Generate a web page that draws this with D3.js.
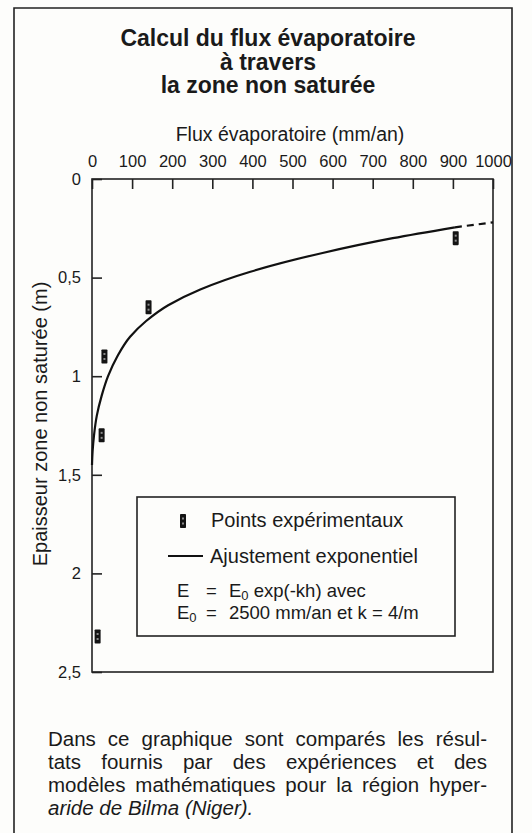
<!DOCTYPE html>
<html>
<head>
<meta charset="utf-8">
<script src="https://cdn.jsdelivr.net/npm/d3@7"></script>
<style>
  body { margin: 0; background: #fdfdfb; }
  svg text { font-family: "Liberation Sans", Arial, Helvetica, sans-serif; fill: #1a1a1a; }
</style>
</head>
<body>
<svg id="chart" width="532" height="833"></svg>
<script>
// title and labels
var titleLines = ["Calcul du flux évaporatoire", "à travers", "la zone non saturée"];
var xTitle = "Flux évaporatoire (mm/an)";
var yTitle = "Epaisseur zone non saturée (m)";
var xTicks = [0, 100, 200, 300, 400, 500, 600, 700, 800, 900, 1000];
var yTicks = [0, 0.5, 1, 1.5, 2, 2.5];

// experimental points (flux mm/an, depth m)
var pointFlux = [907, 141, 31, 24, 14];
var pointDepth = [0.30, 0.65, 0.90, 1.30, 2.32];

// fitted curve (solid part)
var curveFlux = [905, 750, 575, 395, 270, 190, 135, 95, 63, 40, 24, 12, 5, 1.5, 0];
var curveDepth = [0.245, 0.30, 0.375, 0.47, 0.56, 0.64, 0.72, 0.80, 0.90, 1.0, 1.10, 1.20, 1.30, 1.38, 1.45];
// dashed extension
var dashFlux = [905, 1000];
var dashDepth = [0.245, 0.22];

var caption = [
  "Dans ce graphique sont comparés les résul-",
  "tats fournis par des expériences et des",
  "modèles mathématiques pour la région hyper-",
  "aride de Bilma (Niger)."
];

var svg = d3.select("#chart");

// outer frame (bottom runs off the page)
svg.append("path")
  .attr("d", "M14,840 L14,8 L512,8 L512,840")
  .attr("fill", "none")
  .attr("stroke", "#222")
  .attr("stroke-width", 1.6);

// title
svg.append("g").selectAll("text")
  .data(titleLines)
  .enter().append("text")
  .attr("x", 268)
  .attr("y", function(d, i) { return 46 + i * 23.5; })
  .attr("text-anchor", "middle")
  .attr("font-weight", "bold")
  .attr("font-size", 23)
  .text(function(d) { return d; });

var x = d3.scaleLinear().domain([0, 1000]).range([92, 493]);
var y = d3.scaleLinear().domain([0, 2.5]).range([179, 672]);

// axes
var xAxis = svg.append("g")
  .attr("transform", "translate(0," + y(0) + ")")
  .call(d3.axisTop(x).tickValues(xTicks).tickSizeInner(-10).tickSizeOuter(0).tickPadding(12)
    .tickFormat(d3.format("d")));
var yAxis = svg.append("g")
  .attr("transform", "translate(" + x(0) + ",0)")
  .call(d3.axisLeft(y).tickValues(yTicks).tickSizeInner(-10).tickSizeOuter(0).tickPadding(11)
    .tickFormat(function(d) { return String(d).replace(".", ","); }));

[xAxis, yAxis].forEach(function(g) {
  g.select(".domain").remove();
  g.selectAll(".tick line").attr("stroke", "#222").attr("stroke-width", 1.6);
  g.selectAll(".tick text").attr("font-size", 16.5).attr("fill", "#1a1a1a");
});

// plot frame
svg.append("rect")
  .attr("x", x(0)).attr("y", y(0))
  .attr("width", x(1000) - x(0)).attr("height", y(2.5) - y(0))
  .attr("fill", "none")
  .attr("stroke", "#222")
  .attr("stroke-width", 1.6);

// axis titles
svg.append("text")
  .attr("x", 290).attr("y", 141)
  .attr("text-anchor", "middle")
  .attr("font-size", 19.5)
  .text(xTitle);

svg.append("text")
  .attr("transform", "translate(47,424) rotate(-90)")
  .attr("text-anchor", "middle")
  .attr("font-size", 20)
  .text(yTitle);

// fitted curve
var line = d3.line()
  .x(function(d) { return x(d[0]); })
  .y(function(d) { return y(d[1]); })
  .curve(d3.curveMonotoneY);

svg.append("path")
  .datum(d3.zip(curveFlux, curveDepth))
  .attr("d", line)
  .attr("fill", "none")
  .attr("stroke", "#111")
  .attr("stroke-width", 2.2);

svg.append("path")
  .datum(d3.zip(dashFlux, dashDepth))
  .attr("d", d3.line().x(function(d) { return x(d[0]); }).y(function(d) { return y(d[1]); }))
  .attr("fill", "none")
  .attr("stroke", "#111")
  .attr("stroke-width", 2.2)
  .attr("stroke-dasharray", "7,5");

// marker drawing
var drawMarker = function(g, cx, cy) {
  g.append("rect")
    .attr("x", cx - 3).attr("y", cy - 7)
    .attr("width", 6).attr("height", 14)
    .attr("rx", 0.8)
    .attr("fill", "#141414");
  [-3.5, 1.5].forEach(function(off) {
    g.append("rect")
      .attr("x", cx - 1).attr("y", cy + off)
      .attr("width", 2).attr("height", 2)
      .attr("fill", "#8a8a8a");
  });
};

var pts = svg.append("g");
d3.zip(pointFlux, pointDepth).forEach(function(p) {
  drawMarker(pts, x(p[0]), y(p[1]));
});

// legend box
var legend = svg.append("g");
legend.append("rect")
  .attr("x", 137).attr("y", 497)
  .attr("width", 318).attr("height", 139)
  .attr("fill", "#fdfdfb")
  .attr("stroke", "#222")
  .attr("stroke-width", 1.6);

drawMarker(legend, 183, 521);
legend.append("text").attr("x", 211).attr("y", 527).attr("font-size", 20).text("Points expérimentaux");

legend.append("line")
  .attr("x1", 168).attr("x2", 203).attr("y1", 556).attr("y2", 556)
  .attr("stroke", "#111").attr("stroke-width", 2);
legend.append("text").attr("x", 210).attr("y", 563).attr("font-size", 20).text("Ajustement exponentiel");

var eq1 = legend.append("text").attr("y", 597).attr("font-size", 18.5);
eq1.append("tspan").attr("x", 177).text("E");
eq1.append("tspan").attr("x", 206).text("=");
eq1.append("tspan").attr("x", 229).text("E");
eq1.append("tspan").attr("font-size", 13).attr("dy", 3).text("0");
eq1.append("tspan").attr("dy", -3).text(" exp(-kh) avec");

var eq2 = legend.append("text").attr("y", 619).attr("font-size", 18.5);
eq2.append("tspan").attr("x", 177).text("E");
eq2.append("tspan").attr("font-size", 13).attr("dy", 3).text("0");
eq2.append("tspan").attr("x", 206).attr("dy", -3).text("=");
eq2.append("tspan").attr("x", 229).text("2500 mm/an et k = 4/m");

// caption, justified
var capLeft = 48, capRight = 487, capSize = 20.5;
caption.forEach(function(lineText, i) {
  var words = lineText.split(" ");
  var last = i === caption.length - 1;
  var g = svg.append("g");
  var nodes = words.map(function(w) {
    return g.append("text")
      .attr("y", 746 + i * 23)
      .attr("font-size", capSize)
      .attr("font-style", last ? "italic" : null)
      .text(w);
  });
  var widths = nodes.map(function(n) { return n.node().getComputedTextLength(); });
  var total = d3.sum(widths);
  var gap = last ? capSize * 0.28 : (capRight - capLeft - total) / (words.length - 1);
  var cx = capLeft;
  nodes.forEach(function(n, j) {
    n.attr("x", cx);
    cx += widths[j] + gap;
  });
});
</script>
</body>
</html>
